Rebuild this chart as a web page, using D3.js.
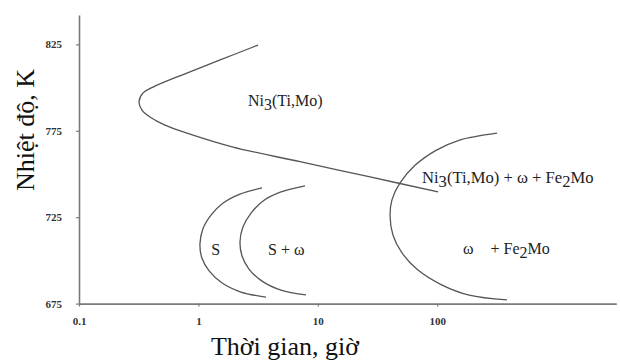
<!DOCTYPE html>
<html>
<head>
<meta charset="utf-8">
<script src="https://cdn.jsdelivr.net/npm/d3@7"></script>
<style>
  html, body { margin: 0; padding: 0; background: #fff; }
  svg { display: block; }
  svg text { font-family: "Liberation Serif", "Times New Roman", serif; }
</style>
</head>
<body>
<svg id="chart" width="620" height="361"></svg>
<script>
// ---- data (time in hours, temperature in K) ----
const xTicks = [0.1, 1, 10, 100];
const yTicks = [675, 725, 775, 825];
const xTickLabels = ["0.1", "1", "10", "100"];
const yTickLabels = ["675", "725", "775", "825"];

const ni3Time = [3.16, 1.52, 0.80, 0.417, 0.344, 0.318, 0.337, 0.393, 0.525, 0.851, 1.95, 7.10, 27.4, 101.6];
const ni3Temp = [824.6, 816.0, 808.4, 800.3, 796.9, 791.7, 787.0, 783.0, 778.3, 773.1, 765.6, 757.1, 748.3, 739.6];

const sTime = [3.41, 2.23, 1.61, 1.28, 1.09, 1.03, 1.07, 1.23, 1.58, 2.27, 3.68];
const sTemp = [741.9, 738.4, 733.2, 726.3, 718.2, 709.5, 701.4, 693.9, 686.9, 681.7, 678.8];

const swTime = [7.81, 4.92, 3.48, 2.76, 2.36, 2.23, 2.32, 2.65, 3.41, 4.92, 7.96];
const swTemp = [743.1, 739.6, 734.4, 727.4, 719.3, 710.6, 702.5, 695.0, 688.0, 682.8, 680.0];

const feTime = [317, 152, 97.7, 65.2, 48.8, 41.8, 40.3, 42.6, 50.7, 69.0, 110, 185, 384];
const feTemp = [773.6, 769.5, 763.7, 755.0, 744.8, 735.0, 725.7, 714.7, 704.3, 694.4, 685.7, 679.9, 677.1];

// region labels: parts [text, isSubscript, extra gap], anchored at (time, temperature)
const labelParts = [
  [["Ni", 0], ["3", 1], ["(Ti,Mo)", 0]],
  [["Ni", 0], ["3", 1], ["(Ti,Mo) + \u03c9 + Fe", 0], ["2", 1], ["Mo", 0]],
  [["S", 0]],
  [["S + \u03c9", 0]],
  [["\u03c9", 0], ["+ Fe", 0, 17], ["2", 1], ["Mo", 0]]
];
const labelTime = [2.60, 74.6, 1.28, 3.83, 164.4];
const labelTemp = [789.4, 744.8, 703.1, 703.1, 703.7];

const xTitle = "Thời gian, giờ";
const yTitle = "Nhiệt độ, K";

// ---- drawing ----
const svg = d3.select("#chart");
const x = d3.scaleLog().domain([0.1, Math.pow(10, 3.5)]).range([79, 616.3]);
const y = d3.scaleLinear().domain([675, 842]).range([303.6, 15]);

const xAxis = svg.append("g")
  .attr("transform", `translate(0,${y(675)})`)
  .call(d3.axisBottom(x).tickValues(xTicks).tickFormat((d, i) => xTickLabels[i])
    .tickSize(3).tickSizeOuter(0).tickPadding(11));
const yAxis = svg.append("g")
  .attr("transform", `translate(${x(0.1)},0)`)
  .call(d3.axisLeft(y).tickValues(yTicks).tickFormat((d, i) => yTickLabels[i])
    .tickSize(3).tickSizeOuter(0).tickPadding(14));

[xAxis, yAxis].forEach(g => {
  g.attr("font-family", null);
  g.select(".domain").attr("stroke", "#7a7a7a").attr("stroke-width", 1.6);
  g.selectAll(".tick line").attr("stroke", "#7a7a7a").attr("stroke-width", 1.2);
  g.selectAll(".tick text").attr("fill", "#333")
    .style("font-size", "11px").style("font-weight", "bold");
});

const line = d3.line()
  .x(d => x(d[0])).y(d => y(d[1]))
  .curve(d3.curveCatmullRom.alpha(0.5));

const curves = [
  d3.zip(ni3Time, ni3Temp),
  d3.zip(sTime, sTemp),
  d3.zip(swTime, swTemp),
  d3.zip(feTime, feTemp)
];
svg.append("g").selectAll("path").data(curves).join("path")
  .attr("d", line)
  .attr("fill", "none")
  .attr("stroke", "#555")
  .attr("stroke-width", 1.3);

const labels = svg.append("g").attr("fill", "#222").style("font-size", "16px");
labelParts.forEach((parts, i) => {
  const t = labels.append("text")
    .attr("x", x(labelTime[i])).attr("y", y(labelTemp[i]));
  if (i === 1) t.style("font-size", "16.6px");
  let sub = false;
  parts.forEach(p => {
    const ts = t.append("tspan").text(p[0]);
    let dy = 0;
    if (p[1] && !sub) { dy = 4; sub = true; }
    else if (!p[1] && sub) { dy = -4; sub = false; }
    if (dy) ts.attr("dy", dy);
    if (p[2]) ts.attr("dx", p[2]);
  });
});

svg.append("text")
  .attr("x", 285).attr("y", 355)
  .attr("text-anchor", "middle")
  .attr("fill", "#111").style("font-size", "26px")
  .text(xTitle);

svg.append("text")
  .attr("transform", "translate(34,130) rotate(-90)")
  .attr("text-anchor", "middle")
  .attr("fill", "#111").style("font-size", "26px")
  .text(yTitle);
</script>
</body>
</html>
